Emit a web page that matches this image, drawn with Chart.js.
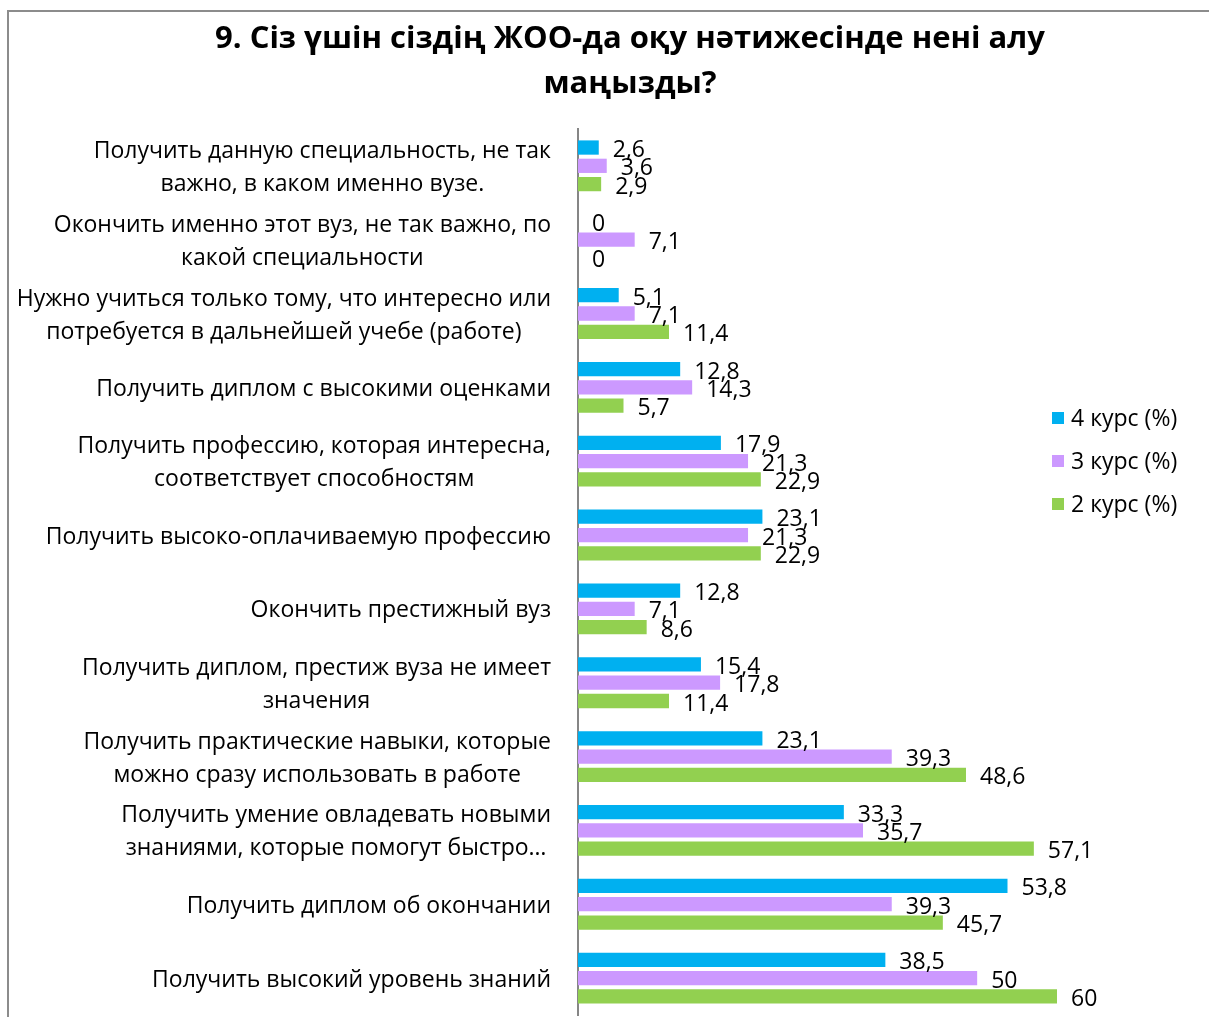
<!DOCTYPE html>
<html>
<head>
<meta charset="utf-8">
<script src="https://cdn.jsdelivr.net/npm/chart.js@4.4.1/dist/chart.umd.min.js"></script>
<style>
html, body { margin: 0; padding: 0; overflow: hidden; background: #fff; }
#frame { position: absolute; left: 7px; top: 10px; width: 1400px; height: 1200px;
  border-left: 2px solid #8c8c8c; border-top: 2px solid #8c8c8c; }
#wrap { position: absolute; left: 0; top: 0; width: 1209px; height: 1017px; }
</style>
</head>
<body>
<div id="frame"></div>
<div id="wrap"><canvas id="chart"></canvas></div>
<script>
// categories, top to bottom (each item = lines of the axis label)
let categories = [
  ['Получить данную специальность, не так', 'важно, в каком именно вузе.'],
  ['Окончить именно этот вуз, не так важно, по', 'какой специальности'],
  ['Нужно учиться только тому, что интересно или', 'потребуется в дальнейшей учебе (работе)'],
  ['Получить диплом с высокими оценками'],
  ['Получить профессию, которая интересна,', 'соответствует способностям'],
  ['Получить высоко-оплачиваемую профессию'],
  ['Окончить престижный вуз'],
  ['Получить диплом, престиж вуза не имеет', 'значения'],
  ['Получить практические навыки, которые', 'можно сразу использовать в работе'],
  ['Получить умение овладевать новыми', 'знаниями, которые помогут быстро…'],
  ['Получить диплом об окончании'],
  ['Получить высокий уровень знаний']
]

let kurs4 = [2.6, 0, 5.1, 12.8, 17.9, 23.1, 12.8, 15.4, 23.1, 33.3, 53.8, 38.5]
let kurs3 = [3.6, 7.1, 7.1, 14.3, 21.3, 21.3, 7.1, 17.8, 39.3, 35.7, 39.3, 50]
let kurs2 = [2.9, 0, 11.4, 5.7, 22.9, 22.9, 8.6, 11.4, 48.6, 57.1, 45.7, 60]

let seriesNames = ['4 курс (%)', '3 курс (%)', '2 курс (%)']
let seriesColors = ['#00B0F0', '#CC99FF', '#92D050']

let titleLines = ['9. Сіз үшін сіздің ЖОО-да оқу нәтижесінде нені алу', 'маңызды?']

let font = "'Open Sans', sans-serif"

// draws category labels, value labels and the legend
let extras = {
  id: 'extras',
  afterDraw(chart) {
    let ctx = chart.ctx
    let y = chart.scales.y
    ctx.save()
    ctx.fillStyle = '#000'

    // category labels: block right-aligned, lines centered inside it
    ctx.font = '23px ' + font
    ctx.textBaseline = 'middle'
    ctx.textAlign = 'center'
    categories.forEach((lines, i) => {
      let cy = y.getPixelForValue(i) + 2
      let w = Math.max(...lines.map(l => ctx.measureText(l).width))
      let cx = 551 - w / 2
      let start = cy - (lines.length - 1) * 16.5
      lines.forEach((l, j) => ctx.fillText(l, cx, start + j * 33))
    })

    // value labels
    ctx.font = '23px ' + font
    ctx.textAlign = 'left'
    chart.data.datasets.forEach((ds, di) => {
      chart.getDatasetMeta(di).data.forEach((bar, i) => {
        ctx.fillText(String(ds.data[i]).replace('.', ','), bar.x + 14, bar.y + 3)
      })
    })

    // legend
    ctx.font = '23px ' + font
    seriesNames.forEach((name, i) => {
      let ly = 418 + i * 43
      ctx.fillStyle = seriesColors[i]
      ctx.fillRect(1052, ly - 6, 12, 12)
      ctx.fillStyle = '#000'
      ctx.fillText(name, 1071, ly + 1)
    })
    ctx.restore()
  }
}

let chart = new Chart(document.getElementById('chart'), {
  type: 'bar',
  data: {
    labels: categories.map(l => l.join(' ')),
    datasets: [
      { label: seriesNames[0], data: kurs4, backgroundColor: seriesColors[0] },
      { label: seriesNames[1], data: kurs3, backgroundColor: seriesColors[1] },
      { label: seriesNames[2], data: kurs2, backgroundColor: seriesColors[2] }
    ]
  },
  options: {
    indexAxis: 'y',
    responsive: true,
    maintainAspectRatio: false,
    animation: false,
    datasets: { bar: { categoryPercentage: 0.743, barPercentage: 0.78 } },
    layout: { padding: { left: 203, right: 152, top: 0, bottom: 2 } },
    plugins: {
      legend: { display: false },
      tooltip: { enabled: false },
      title: {
        display: true,
        text: titleLines,
        color: '#000',
        font: { family: font, size: 31, weight: 'bold', lineHeight: 1.45 },
        padding: { top: 17, bottom: 22 }
      }
    },
    scales: {
      x: { display: false, min: 0, max: 60 },
      y: {
        grid: { display: false },
        border: { display: true, color: '#868686', width: 2 },
        ticks: { display: false },
        afterFit(scale) { scale.width = 375 }
      }
    }
  },
  plugins: [extras]
})
</script>
</body>
</html>
